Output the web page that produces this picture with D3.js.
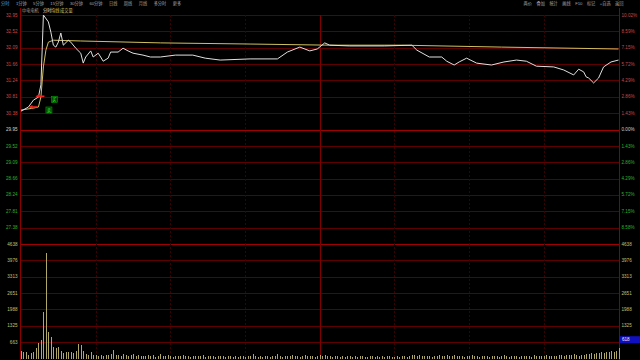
<!DOCTYPE html>
<html>
<head>
<meta charset="utf-8">
<script src="https://cdn.jsdelivr.net/npm/d3@7"></script>
<style>
  html, body { margin: 0; padding: 0; background: #000; overflow: hidden; }
  svg { display: block; }
  text { font-family: "Liberation Sans", "Noto Sans CJK SC", sans-serif; }
</style>
</head>
<body>
<svg id="chart"></svg>
<script>
const W = 640, H = 360;

// chart data
const stockName = "中电电机";
const basePrice = 29.95;
const priceTicks = [32.95, 32.52, 32.09, 31.66, 31.24, 30.81, 30.38, 29.95, 29.52, 29.09, 28.66, 28.24, 27.81, 27.38];
const pctTicks = ["10.02%", "8.59%", "7.15%", "5.72%", "4.29%", "2.86%", "1.43%", "0.00%",
                  "1.43%", "2.86%", "4.29%", "5.72%", "7.15%", "8.58%"];
const volTicks = [4638, 3976, 3313, 2651, 1988, 1325, 663];
const volCursor = 618;

const leftTabs = ["分时", "1分钟", "5分钟", "15分钟", "30分钟", "60分钟", "日线", "周线", "月线", "多分时", "更多"];
const rightTabs = ["两价", "叠加", "统计", "画线", "F10", "标记", "+自选", "返回"];

// minute of day (0..240) and price
const priceMinutes = [0, 3, 5, 7, 8, 9, 11, 12, 13, 14, 15, 16, 17, 19, 20, 22, 24, 25, 26, 28, 29, 31, 32, 33, 35, 36,
  39, 41, 43, 45, 49, 52, 56, 62, 69, 74, 80, 92, 103, 107, 112, 116, 119, 122, 124, 132, 146, 157, 159, 164, 169,
  171, 174, 176, 179, 183, 189, 194, 199, 203, 207, 214, 218, 222, 224, 226, 227, 228, 230, 232, 234, 237, 240];
const priceValues = [30.43, 30.54, 30.72, 30.80, 31.12, 32.95, 32.77, 32.50, 32.16, 32.11, 32.24, 32.48, 32.16, 32.29,
  32.24, 32.08, 31.95, 31.69, 31.85, 32.01, 31.85, 31.95, 31.85, 31.74, 31.82, 31.98,
  31.98, 32.08, 32.01, 31.95, 31.90, 31.85, 31.85, 31.90, 31.90, 31.82, 31.77, 31.80, 31.80, 31.98, 32.11, 32.01,
  32.06, 32.22, 32.16, 32.14, 32.14, 32.16, 32.03, 31.85, 31.85,
  31.74, 31.64, 31.72, 31.82, 31.69, 31.64, 31.72, 31.77, 31.74, 31.61, 31.59, 31.51, 31.38, 31.53, 31.46, 31.33,
  31.30, 31.17, 31.30, 31.59, 31.72, 31.77];

// average price line
const avgMinutes = [0, 5, 7, 8, 9, 10, 11, 13, 24, 56, 92, 124, 153, 193, 240];
const avgValues = [30.46, 30.51, 30.54, 30.80, 31.59, 32.03, 32.24, 32.29, 32.27, 32.22, 32.19, 32.16, 32.16, 32.11, 32.06];

// volume per minute (0..240)
const volumes = [
  320, 280, 280, 150, 240, 280, 445, 645, 770, 1900,
  4280, 1090, 890, 485, 445, 485, 300, 240, 260, 280,
  280, 240, 320, 605, 565, 320, 200, 160, 270, 130,
  150, 120, 140, 110, 160, 130, 180, 335, 150, 160,
  120, 170, 140, 100, 130, 200, 90, 150, 110, 120,
  90, 130, 100, 140, 80, 120, 200, 110, 90, 130,
  100, 80, 120, 90, 110, 140, 100, 90, 80, 120,
  100, 90, 110, 160, 80, 100, 120, 90, 70, 110,
  90, 100, 80, 120, 90, 70, 100, 80, 110, 90,
  80, 100, 120, 200, 90, 80, 110, 70, 100, 90,
  80, 110, 90, 200, 100, 80, 120, 90, 100, 130,
  90, 100, 80, 110, 140, 120, 100, 90, 80, 110,
  130, 100, 150, 90, 110, 80, 100, 90, 70, 100,
  80, 90, 110, 70, 100, 80, 90, 120, 80, 70,
  90, 110, 80, 100, 70, 90, 80, 100, 90, 70,
  80, 100, 70, 90, 110, 80, 120, 150, 130, 100,
  140, 110, 90, 120, 100, 80, 110, 90, 130, 100,
  120, 150, 110, 90, 140, 100, 120, 90, 80, 110,
  100, 130, 90, 110, 80, 100, 90, 120, 80, 100,
  90, 110, 80, 100, 130, 90, 80, 110, 90, 100,
  80, 100, 120, 90, 110, 80, 130, 100, 90, 120,
  100, 140, 110, 90, 120, 100, 130, 150, 110, 140,
  160, 130, 180, 150, 120, 160, 140, 180, 200, 220,
  190, 240, 210, 260, 230, 280, 250, 300, 270, 320,
  420
];

// buy / sell markers (minute, price, label)
const signalMinutes = [7, 5];
const signalPrices = [30.82, 30.54];
const signalLabels = ["买", "卖"];

// layout
const left = 20.5, right = 619.5;
const priceTop = 15, priceBottom = 244, volBottom = 358.6;

const svg = d3.select("#chart").attr("width", W).attr("height", H);
svg.append("rect").attr("width", W).attr("height", H).attr("fill", "#000");

const x = d3.scaleLinear().domain([0, 240]).range([21, 618.5]);
const yPrice = d3.scaleLinear()
  .domain([basePrice * (1 - 0.1002), basePrice * (1 + 0.1002)])
  .range([priceBottom, priceTop]);
const yVol = d3.scaleLinear().domain([0, 4638]).range([volBottom, priceBottom]);

// horizontal grid
const grid = svg.append("g").attr("shape-rendering", "crispEdges");
priceTicks.forEach((p, i) => {
  const y = Math.round(yPrice(p)) + 0.5;
  grid.append("line").attr("x1", left).attr("x2", right).attr("y1", y).attr("y2", y)
    .attr("stroke", i === 7 ? "#a00000" : "#5c0000").attr("stroke-width", 1);
});
volTicks.forEach((v, i) => {
  const y = Math.round(yVol(v)) + 0.5;
  grid.append("line").attr("x1", left).attr("x2", right).attr("y1", y).attr("y2", y)
    .attr("stroke", i === 0 ? "#a00000" : "#5c0000").attr("stroke-width", 1);
});

// vertical grid every 30 minutes
d3.range(30, 240, 30).forEach(m => {
  const xx = Math.round(x(m)) + 0.5;
  grid.append("line").attr("x1", xx).attr("x2", xx).attr("y1", priceTop).attr("y2", H)
    .attr("stroke", m === 120 ? "#800000" : "#3c0000")
    .attr("stroke-dasharray", m === 120 ? null : "2,2");
});

// frame lines
[left, right].forEach(xx => {
  grid.append("line").attr("x1", xx).attr("x2", xx).attr("y1", 8).attr("y2", H)
    .attr("stroke", "#8c0000");
});

// axis labels
const lab = svg.append("g").attr("font-size", 4.6);
priceTicks.forEach((p, i) => {
  const y = yPrice(p) + 1.6;
  const c = i < 7 ? "#c84848" : (i === 7 ? "#d0d0d0" : "#30b030");
  lab.append("text").attr("x", 17.5).attr("y", y).attr("text-anchor", "end").attr("fill", c).text(p.toFixed(2));
  lab.append("text").attr("x", 621.5).attr("y", y).attr("fill", c).text(pctTicks[i]);
});
volTicks.forEach((v, i) => {
  const y = yVol(v) + 1.6;
  lab.append("text").attr("x", 17.5).attr("y", y).attr("text-anchor", "end").attr("fill", "#c0c070").text(v);
  if (i < volTicks.length - 1) {
    lab.append("text").attr("x", 621.5).attr("y", y).attr("fill", "#c0c070").text(v);
  }
});
// current volume tag on the right axis
const tagY = yVol(volTicks[volTicks.length - 1]);
svg.append("rect").attr("x", 620).attr("y", tagY - 6).attr("width", 20).attr("height", 7).attr("fill", "#1010c0");
svg.append("text").attr("x", 622).attr("y", tagY - 1).attr("font-size", 4.6).attr("fill", "#e8e8ff").text(volCursor);

// volume bars
svg.append("g").selectAll("rect").data(volumes).join("rect")
  .attr("x", (d, i) => Math.round(x(i)))
  .attr("width", 1)
  .attr("y", d => yVol(d))
  .attr("height", d => volBottom - yVol(d))
  .attr("fill", "#b0a868")
  .attr("shape-rendering", "crispEdges");

// average and price lines
const line = d3.line().x(d => x(d[0])).y(d => yPrice(d[1]));
svg.append("path").datum(avgMinutes.map((m, i) => [m, avgValues[i]]))
  .attr("d", line).attr("fill", "none").attr("stroke", "#d0c060").attr("stroke-width", 1);
svg.append("path").datum(priceMinutes.map((m, i) => [m, priceValues[i]]))
  .attr("d", line).attr("fill", "none").attr("stroke", "#e0e0e0").attr("stroke-width", 1);

// buy/sell markers
signalMinutes.forEach((m, i) => {
  const px = x(m), py = yPrice(signalPrices[i]);
  const ax = px - 3 - i * 2;
  svg.append("path")
    .attr("d", `M${ax},${py} l4,-2 l0,1.2 l5,0 l0,1.6 l-5,0 l0,1.2 z`)
    .attr("fill", "#ff2020");
  const bx = px + 13 - i * 0.5, by = py;
  svg.append("rect").attr("x", bx).attr("y", by).attr("width", 6).attr("height", 6)
    .attr("fill", "#003000").attr("stroke", "#00a000").attr("stroke-width", 0.6);
  svg.append("text").attr("x", bx + 3).attr("y", by + 4.8).attr("text-anchor", "middle")
    .attr("font-size", 4.6).attr("fill", "#40ff40").text(signalLabels[i]);
});

// top toolbar
const bar = svg.append("g").attr("font-size", 4.2);
let tx = 1;
leftTabs.forEach((t, i) => {
  const el = bar.append("text").attr("x", tx).attr("y", 5).attr("fill", i === 0 ? "#40a0ff" : "#a8a8a8").text(t);
  tx += el.node().getComputedTextLength() + 6.5;
});
tx = 623.5;
rightTabs.slice().reverse().forEach(t => {
  const el = bar.append("text").attr("x", tx).attr("y", 5).attr("text-anchor", "end").attr("fill", "#a8a8a8").text(t);
  tx -= el.node().getComputedTextLength() + 4.5;
});

// header inside the chart
const head = svg.append("g").attr("font-size", 4.2);
head.append("text").attr("x", 22).attr("y", 12).attr("fill", "#a0a0a0").text(stockName);
head.append("text").attr("x", 43).attr("y", 12).attr("fill", "#e0e0e0").text("分时");
head.append("text").attr("x", 51).attr("y", 12).attr("fill", "#e0d040").text("均线");
head.append("text").attr("x", 60).attr("y", 12).attr("fill", "#d0c060").text("成交量");
</script>
</body>
</html>
